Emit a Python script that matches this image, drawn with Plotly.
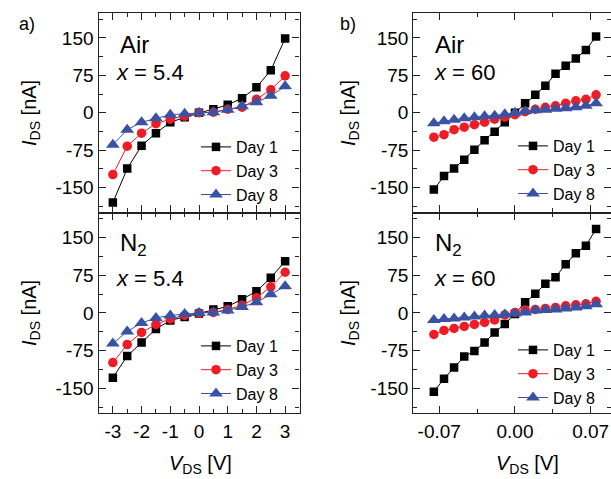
import plotly.graph_objects as go

# ---------------- data ----------------
v_small = [-3, -2.5, -2, -1.5, -1, -0.5, 0, 0.5, 1, 1.5, 2, 2.5, 3]
v_large = [-0.075, -0.0656, -0.0563, -0.0469, -0.0375, -0.0281, -0.0188, -0.0094, 0.0,
           0.0094, 0.0188, 0.0281, 0.0375, 0.0469, 0.0563, 0.0656, 0.075]

air54_day1 = [-180, -112, -66, -41, -19, -9, 0, 7, 16, 29, 51, 85, 149]
air54_day3 = [-124, -67, -41, -22, -13, -7, 0, 1, 7, 11, 27, 46, 74]
air54_day8 = [-64, -34, -19, -11, -4, -2, 0, 1, 6, 13, 21, 34, 53]

n254_day1 = [-129, -86, -59, -32, -15, -8, -1, 7, 13, 27, 43, 70, 103]
n254_day3 = [-99, -63, -39, -23, -12, -5, 0, 1, 7, 15, 30, 52, 81]
n254_day8 = [-61, -37, -20, -10, -5, -2, 0, 1, 5, 12, 21, 37, 53]

air60_day1 = [-154, -127, -112, -94, -74, -55, -38, -19, 0, 19, 36, 54, 78, 94, 109, 126, 153]
air60_day3 = [-49, -44, -34, -29, -24, -19, -13, -9, -4, 2, 7, 11, 14, 19, 24, 27, 36]
air60_day8 = [-21, -17, -14, -11, -9, -7, -6, -3, 0, 3, 5, 6, 8, 9, 11, 14, 19]

n260_day1 = [-157, -131, -109, -87, -76, -59, -39, -22, -2, 21, 38, 58, 71, 97, 119, 134, 167]
n260_day3 = [-43, -35, -31, -27, -23, -19, -14, -4, 1, 6, 7, 9, 11, 14, 16, 18, 23]
n260_day8 = [-14, -12, -11, -9, -7, -5, -4, -3, -1, 1, 5, 6, 7, 9, 11, 13, 17]

series_names = ["Day 1", "Day 3", "Day 8"]

y_tickvals = [-150, -75, 0, 75, 150]
y_ticktext = ["-150", "-75", "0", "75", "150"]
xs_tickvals = [-3, -2, -1, 0, 1, 2, 3]
xs_ticktext = ["-3", "-2", "-1", "0", "1", "2", "3"]
xl_tickvals = [-0.07, 0.0, 0.07]
xl_ticktext = ["-0.07", "0.00", "0.07"]

# ---------------- style ----------------
W, H = 611, 479
FONT = "Liberation Sans, Arial, sans-serif"
colors = ["#000000", "#ee1c25", "#3a52a3"]
symbols = ["square", "circle", "triangle-up"]
msizes = [8.5, 9.5, 12]


def fx(p):
    return p / W


def fy(p):
    return 1 - p / H


fig = go.Figure()

panels = [
    (v_small, [air54_day1, air54_day3, air54_day8], "x", "y", "legend"),
    (v_small, [n254_day1, n254_day3, n254_day8], "x2", "y2", "legend2"),
    (v_large, [air60_day1, air60_day3, air60_day8], "x3", "y3", "legend3"),
    (v_large, [n260_day1, n260_day3, n260_day8], "x4", "y4", "legend4"),
]

for xv, ys, xa, ya, lg in panels:
    for i, yv in enumerate(ys):
        fig.add_trace(go.Scatter(
            x=xv, y=yv, mode="lines+markers", name=series_names[i],
            xaxis=xa, yaxis=ya, legend=lg,
            line=dict(color=colors[i], width=1),
            marker=dict(symbol=symbols[i], size=msizes[i], color=colors[i],
                        line=dict(width=0)),
        ))

xl_left = [fx(98.5), fx(299.5)]
xl_right = [fx(413.3), 1.0]
yd_top = [fy(212.5), fy(13)]
yd_bot = [fy(413.3), fy(212.5)]

axis_common = dict(
    showline=True, linecolor="#222222", linewidth=1.3, mirror="allticks",
    ticks="inside", ticklen=7, tickwidth=1.2, tickcolor="#222222",
    showgrid=False, zeroline=False,
    tickfont=dict(family=FONT, size=19, color="#000000"),
)

yaxis_common = dict(axis_common, range=[-200, 200], tickmode="array",
                    tickvals=y_tickvals, ticktext=y_ticktext,
                    ticksuffix="\u00a0",
                    minor=dict(ticks="inside", ticklen=4, tickwidth=1.1,
                               tickcolor="#222222", tickmode="linear",
                               tick0=37.5, dtick=75, showgrid=False))

xs_common = dict(axis_common, range=[-3.5, 3.5], tickmode="array",
                 tickvals=xs_tickvals, ticktext=xs_ticktext,
                 minor=dict(ticks="inside", ticklen=4, tickwidth=1.1,
                            tickcolor="#222222", tickmode="linear",
                            tick0=0.5, dtick=1, showgrid=False),
                 ticklabelstandoff=1)

xlg_common = dict(axis_common, range=[-0.094, 0.0888], tickmode="array",
                  tickvals=xl_tickvals, ticktext=xl_ticktext,
                  minor=dict(ticks="inside", ticklen=4, tickwidth=1.1,
                             tickcolor="#222222", tickmode="linear",
                             tick0=0.035, dtick=0.07, showgrid=False),
                  ticklabelstandoff=1)

fig.update_layout(
    width=W, height=H,
    margin=dict(l=0, r=0, t=0, b=0),
    paper_bgcolor="white", plot_bgcolor="white",
    font=dict(family=FONT, color="#000000"),
    xaxis=dict(xs_common, domain=xl_left, anchor="y", showticklabels=False),
    yaxis=dict(yaxis_common, domain=yd_top, anchor="x"),
    xaxis2=dict(xs_common, domain=xl_left, anchor="y2"),
    yaxis2=dict(yaxis_common, domain=yd_bot, anchor="x2"),
    xaxis3=dict(xlg_common, domain=xl_right, anchor="y3", showticklabels=False),
    yaxis3=dict(yaxis_common, domain=yd_top, anchor="x3"),
    xaxis4=dict(xlg_common, domain=xl_right, anchor="y4"),
    yaxis4=dict(yaxis_common, domain=yd_bot, anchor="x4"),
)

leg_common = dict(bgcolor="rgba(0,0,0,0)", borderwidth=0, tracegroupgap=0,
                  font=dict(family=FONT, size=16, color="#000000"),
                  xanchor="left", yanchor="top", itemclick=False)
fig.update_layout(
    legend=dict(leg_common, x=fx(196), y=fy(130)),
    legend2=dict(leg_common, x=fx(196), y=fy(329)),
    legend3=dict(leg_common, x=fx(513), y=fy(129)),
    legend4=dict(leg_common, x=fx(513), y=fy(333)),
)

ann = []


def add_text(text, x, y, size, xanchor="left", yanchor="middle", angle=0):
    ann.append(dict(text=text, x=fx(x), y=fy(y), xref="paper", yref="paper",
                    xanchor=xanchor, yanchor=yanchor, showarrow=False,
                    textangle=angle, font=dict(family=FONT, size=size, color="#000000")))


add_text("a)", 17, 24, 18)
add_text("b)", 338, 24, 18)
add_text("Air", 118, 44, 24)
add_text("<i>x</i> = 5.4", 114, 72, 22)
add_text("N<sub>2</sub>", 118, 244, 24)
add_text("<i>x</i> = 5.4", 114, 278, 22)
add_text("Air", 433, 44, 24)
add_text("<i>x</i> = 60", 432, 72, 22)
add_text("N<sub>2</sub>", 433, 244, 24)
add_text("<i>x</i> = 60", 432, 278, 22)
for yc in (113, 313):
    add_text("<i>I</i><sub>DS</sub> [nA]", 30, yc, 20, xanchor="center", angle=-90)
    add_text("<i>I</i><sub>DS</sub> [nA]", 349, yc, 20, xanchor="center", angle=-90)
add_text("<i>V</i><sub>DS</sub> [V]", 200, 464, 20, xanchor="center")
add_text("<i>V</i><sub>DS</sub> [V]", 527, 464, 20, xanchor="center")

fig.update_layout(annotations=ann)

fig.write_html("out.html",
               config={"displayModeBar": False},
               post_script="document.body.style.margin='0px';document.body.style.overflow='hidden';")
